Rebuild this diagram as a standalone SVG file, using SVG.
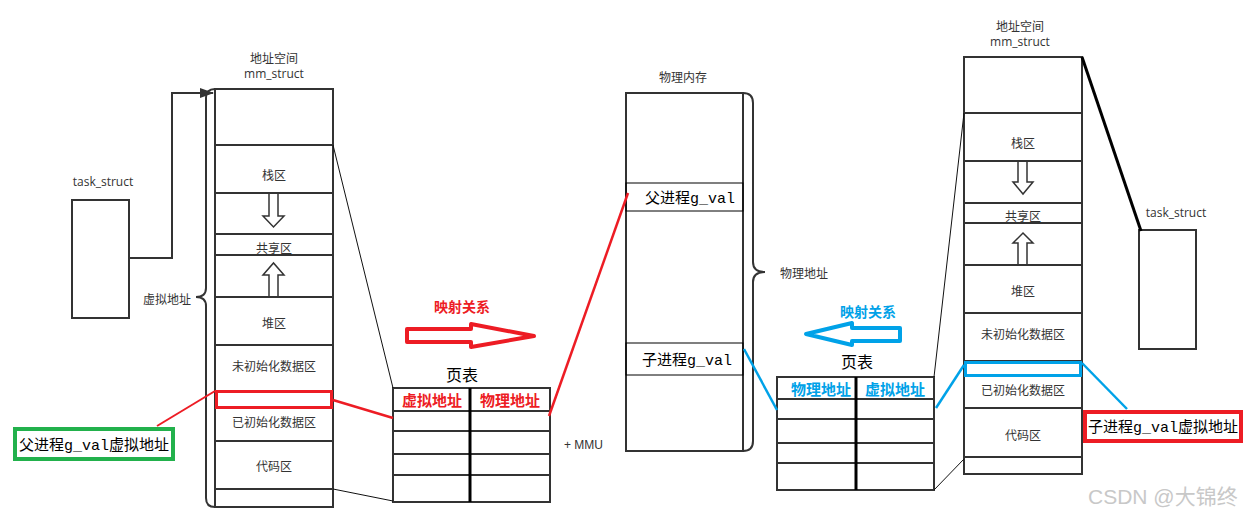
<svg xmlns="http://www.w3.org/2000/svg" width="1256" height="518" viewBox="0 0 1256 518">
<defs>
<style>
.box{fill:#fff;stroke:#333;stroke-width:2}
.ln{stroke:#333;stroke-width:2}
.thin{stroke:#111;stroke-width:1;fill:none}
.lbl{font-family:"Noto Sans CJK SC","Liberation Sans",sans-serif;font-size:12px;fill:#333;text-anchor:middle;dominant-baseline:central}
.lat{font-family:"Open Sans","Noto Sans CJK SC",sans-serif;font-size:12px;fill:#333;text-anchor:middle;dominant-baseline:central}
.song{font-family:"Liberation Mono","Noto Sans CJK SC",monospace;font-size:15px;fill:#000}
.hdr{font-family:"Noto Sans CJK SC",sans-serif;font-size:15px;font-weight:bold;text-anchor:middle;dominant-baseline:central}
.red{stroke:#ED1C24}
.blue{stroke:#00A2E8}
.arr{fill:#fff;stroke:#333;stroke-width:1.5}
</style>
<marker id="ah" markerWidth="14" markerHeight="10" refX="13" refY="5" orient="auto" markerUnits="userSpaceOnUse">
<path d="M0,0 L14,5 L0,10 Z" fill="#333"/>
</marker>
</defs>
<rect width="1256" height="518" fill="#fff"/>

<g id="left-task">
<rect class="box" x="72" y="200" width="57" height="118"/>
<text class="lat" x="103" y="181">task_struct</text>
</g>

<g id="left-mm">
<text class="lbl" x="274" y="57">地址空间</text>
<text class="lat" x="274" y="73">mm_struct</text>
<rect class="box" x="215" y="89" width="118" height="418"/>
<path class="ln" d="M215,145H333M215,193H333M215,234H333M215,255H333M215,297H333M215,345H333M215,391H333M215,441H333M215,489H333"/>
<text class="lbl" x="274" y="174">栈区</text>
<path class="arr" d="M269,194V216H263L273.5,227L284,216H278V194"/>
<text class="lbl" x="274" y="247">共享区</text>
<path class="arr" d="M269,296V275H263L273.5,263L284,275H278V296"/>
<text class="lbl" x="274" y="322">堆区</text>
<text class="lbl" x="274" y="365">未初始化数据区</text>
<text class="lbl" x="274" y="421">已初始化数据区</text>
<text class="lbl" x="274" y="465">代码区</text>
<rect x="216.5" y="391.5" width="115" height="16" fill="none" stroke="#ED1C24" stroke-width="3"/>
<path d="M215,89Q206,89 206,98V288Q206,297 196,297Q206,297 206,306V498Q206,507 215,507" fill="none" stroke="#333" stroke-width="2"/>
<text class="lbl" x="191" y="298" style="text-anchor:end">虚拟地址</text>
</g>

<g id="green-label">
<rect x="15" y="429" width="158" height="30" fill="#fff" stroke="#22B14C" stroke-width="4"/>
<text class="song" x="19" y="450">父进程g_val虚拟地址</text>
</g>

<g id="left-pagetable">
<text class="lbl" x="462" y="374" style="font-size:16px;fill:#000">页表</text>
<rect class="box" x="393" y="388" width="157" height="114"/>
<path class="ln" d="M393,411H550M393,431H550M393,454H550M393,475H550"/>
<line x1="470" y1="388" x2="470" y2="502" stroke="#000" stroke-width="3"/>
<text class="hdr" x="432" y="399" fill="#ED1C24">虚拟地址</text>
<text class="hdr" x="510" y="399" fill="#ED1C24">物理地址</text>
</g>

<g id="red-map">
<text class="hdr" x="462" y="306" fill="#ED1C24" style="font-size:14px">映射关系</text>
<path d="M534,336L471,324V329H407V342H471V347Z" fill="#fff" stroke="#ED1C24" stroke-width="4" stroke-linejoin="round"/>
</g>

<g id="mmu">
<text x="564" y="449" style="font-family:'Liberation Sans',sans-serif;font-size:12px;fill:#333">+ MMU</text>
</g>

<g id="physical">
<text class="lbl" x="683" y="76">物理内存</text>
<rect class="box" x="626" y="93" width="117" height="358"/>
<rect x="626" y="183" width="117" height="28" fill="none" stroke="#000" stroke-width="1"/>
<rect x="626" y="343" width="117" height="32" fill="none" stroke="#000" stroke-width="1"/>
<text class="song" x="645" y="203">父进程g_val</text>
<text class="song" x="642" y="365">子进程g_val</text>
<path d="M743,93Q753,93 753,103V262Q753,272 765,272Q753,272 753,282V441Q753,451 743,451" fill="none" stroke="#333" stroke-width="2"/>
<text class="lbl" x="780" y="272" style="text-anchor:start">物理地址</text>
</g>

<g id="blue-map">
<text class="hdr" x="868" y="311" fill="#00A2E8" style="font-size:14px">映射关系</text>
<path d="M806,334L852,323V328H900V341H852V345Z" fill="#fff" stroke="#00A2E8" stroke-width="4" stroke-linejoin="round"/>
</g>

<g id="right-pagetable">
<text class="lbl" x="857" y="361" style="font-size:16px;fill:#000">页表</text>
<rect class="box" x="777" y="377" width="157" height="113"/>
<path class="ln" d="M777,399H934M777,419H934M777,443H934M777,463H934"/>
<line x1="856" y1="377" x2="856" y2="490" stroke="#000" stroke-width="3"/>
<text class="hdr" x="821" y="388" fill="#00A2E8">物理地址</text>
<text class="hdr" x="895" y="388" fill="#00A2E8">虚拟地址</text>
</g>

<g id="right-mm">
<text class="lbl" x="1020" y="25">地址空间</text>
<text class="lat" x="1020" y="41">mm_struct</text>
<rect class="box" x="964" y="57" width="118" height="417"/>
<path class="ln" d="M964,113H1082M964,161H1082M964,203H1082M964,223H1082M964,265H1082M964,313H1082M964,361H1082M964,376H1082M964,408H1082M964,457H1082"/>
<text class="lbl" x="1023" y="142">栈区</text>
<path class="arr" d="M1018,162V182H1013L1023,194L1033,182H1027V162"/>
<text class="lbl" x="1023" y="215">共享区</text>
<path class="arr" d="M1018,264V243H1013L1023,233L1033,243H1027V264"/>
<text class="lbl" x="1023" y="290">堆区</text>
<text class="lbl" x="1023" y="333">未初始化数据区</text>
<text class="lbl" x="1023" y="389">已初始化数据区</text>
<text class="lbl" x="1023" y="434">代码区</text>
<rect x="965.5" y="362.5" width="115" height="13" fill="none" stroke="#00A2E8" stroke-width="3"/>
</g>

<g id="right-task">
<text class="lat" x="1176" y="212">task_struct</text>
<rect class="box" x="1139" y="230" width="57" height="119"/>
</g>

<g id="red-label">
<rect x="1085" y="412" width="156" height="29" fill="#fff" stroke="#ED1C24" stroke-width="4"/>
<text class="song" x="1088" y="432">子进程g_val虚拟地址</text>
</g>

<g id="connectors">
<polyline points="129,258 172,258 172,93 213,93" fill="none" stroke="#333" stroke-width="2" marker-end="url(#ah)"/>
<line class="thin" x1="333" y1="145" x2="393" y2="388"/>
<line class="thin" x1="333" y1="489" x2="393" y2="501"/>
<line class="red" x1="333" y1="400" x2="393" y2="418" stroke-width="2.5"/>
<line class="red" x1="157" y1="426" x2="215" y2="391" stroke-width="2"/>
<line class="red" x1="549" y1="416" x2="628" y2="193" stroke-width="2.5"/>
<line class="blue" x1="744" y1="349" x2="777" y2="410" stroke-width="2.5"/>
<line class="blue" x1="936" y1="408" x2="964" y2="365" stroke-width="2.5"/>
<line class="blue" x1="1082" y1="363" x2="1127" y2="409" stroke-width="2.5"/>
<line class="thin" x1="964" y1="113" x2="934" y2="377"/>
<line class="thin" x1="934" y1="490" x2="964" y2="459"/>
<line x1="1082" y1="57" x2="1141" y2="231" stroke="#000" stroke-width="3"/>
</g>

<text x="1088" y="504" style="font-family:'Liberation Sans','Noto Sans CJK SC',sans-serif;font-size:21px;fill:#c8c8c8">CSDN @大锦终</text>
</svg>
